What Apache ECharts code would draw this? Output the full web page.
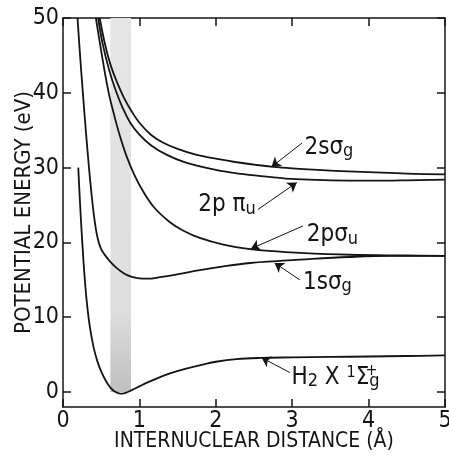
<!DOCTYPE html>
<html>
<head>
<meta charset="utf-8">
<script src="https://cdn.jsdelivr.net/npm/echarts@6/dist/echarts.min.js"></script>
<style>
  html, body { margin: 0; padding: 0; background: #fff; }
  #chart { width: 449px; height: 457px; }
</style>
</head>
<body>
<div id="chart"></div>
<script>
const FONT = '"Liberation Sans Narrow", "DejaVu Sans Condensed", sans-serif'
const INK = '#141414'

const xTicks = [0, 1, 2, 3, 4, 5]
const yTicks = [0, 10, 20, 30, 40, 50]

// [R (Å), E (eV)]
const h2Ground = [
  [0.2, 30], [0.215, 26.8], [0.235, 23], [0.255, 19.6], [0.28, 15.8], [0.31, 12.2],
  [0.35, 8.8], [0.4, 6.0], [0.45, 4.1], [0.5, 2.75], [0.56, 1.5], [0.62, 0.6],
  [0.68, 0.05], [0.75, -0.22], [0.82, -0.1], [0.9, 0.25], [1.0, 0.75], [1.1, 1.25],
  [1.27, 2.0], [1.4, 2.5], [1.6, 3.1], [1.84, 3.7], [2.0, 4.05], [2.27, 4.4],
  [2.58, 4.56], [3.0, 4.63], [3.5, 4.69], [4, 4.75], [4.5, 4.82], [5, 4.9],
]
const ion1sSg = [
  [0.19, 50], [0.22, 45.5], [0.26, 40], [0.3, 34.8], [0.34, 30], [0.37, 26.8],
  [0.40, 24.0], [0.43, 21.8], [0.46, 20.3], [0.5, 19.1], [0.55, 18.3], [0.62, 17.4],
  [0.7, 16.6], [0.8, 15.85], [0.9, 15.4], [1.0, 15.2], [1.1, 15.15], [1.27, 15.35],
  [1.53, 15.8], [1.79, 16.3], [2.1, 16.8], [2.45, 17.25], [2.8, 17.5], [3.1, 17.7],
  [3.75, 18.05], [4.3, 18.2], [5, 18.2],
]
const ion2pSu = [
  [0.43, 50], [0.5, 45.6], [0.59, 40.4], [0.66, 37.4], [0.74, 34.4], [0.84, 31.3],
  [0.94, 28.9], [1.05, 26.8], [1.2, 24.6], [1.4, 22.7], [1.57, 21.6], [1.79, 20.6],
  [2.1, 19.7], [2.45, 19.1], [2.8, 18.8], [3.1, 18.6], [3.75, 18.35], [4.5, 18.25],
  [5, 18.2],
]
const ion2pPu = [
  [0.46, 50], [0.52, 46.5], [0.6, 43.2], [0.68, 40.6], [0.78, 38.0], [0.88, 36.0],
  [1.0, 34.4], [1.15, 33.0], [1.36, 31.7], [1.6, 30.7], [2.0, 29.7], [2.3, 29.2],
  [2.66, 28.8], [3.05, 28.45], [3.5, 28.3], [4, 28.25], [4.5, 28.3], [5, 28.4],
]
const ion2sSg = [
  [0.48, 50], [0.55, 46.5], [0.62, 43.8], [0.7, 41.6], [0.8, 39.3], [0.9, 37.5],
  [1.0, 36.0], [1.15, 34.4], [1.3, 33.4], [1.5, 32.5], [1.75, 31.7], [2.0, 31.2],
  [2.25, 30.75], [2.5, 30.4], [2.75, 30.1], [3.0, 29.9], [3.5, 29.6], [4, 29.4],
  [4.5, 29.2], [5, 29.1],
]

// Franck-Condon region
const fcBand = [0.62, 0.89]

// label anchor, arrow start, arrow tip (data coords)
const labels = [
  { text: '{m|2sσ}{s|g}', at: [3.16, 32.65], from: [3.13, 33.3], to: [2.73, 30.1], bend: 0.25 },
  { text: '{m|2p π}{s|u}', at: [1.77, 25.0], from: [2.55, 24.4], to: [3.06, 28.0], bend: 0.25 },
  { text: '{m|2pσ}{s|u}', at: [3.19, 21.0], from: [3.14, 22.2], to: [2.46, 19.15], bend: 0.15 },
  { text: '{m|1sσ}{s|g}', at: [3.14, 14.6], from: [3.10, 15.0], to: [2.77, 17.25], bend: -0.25 },
  { text: '{m|H}{s|2}{m| X }{p|1}{m|Σ}{s|g}', at: [2.99, 1.9], from: [2.97, 2.6], to: [2.60, 4.6], bend: 0.1 },
]
const plusMark = { text: '+', at: [3.96, 2.9] }

const rich = {
  m: { fontSize: 24, fontFamily: FONT, color: INK, lineHeight: 26, verticalAlign: 'middle' },
  s: { fontSize: 18, fontFamily: FONT, color: INK, lineHeight: 18, verticalAlign: 'bottom' },
  p: { fontSize: 16, fontFamily: FONT, color: INK, lineHeight: 16, verticalAlign: 'top' },
}

function curve(name, data) {
  return {
    name, type: 'line', data, z: 3,
    smooth: 0.4,
    symbol: 'none', clip: true,
    lineStyle: { color: INK, width: 1.8 },
  }
}

const chart = echarts.init(document.getElementById('chart'))

const axisLine = { show: true, onZero: false, lineStyle: { color: INK, width: 1.5 } }
const tick = { show: true, inside: true, length: 8, lineStyle: { color: INK, width: 1.5 } }

chart.setOption({
  animation: false,
  backgroundColor: '#fff',
  grid: { left: 63, right: 4, top: 18, bottom: 50, outerBoundsMode: 'none', containLabel: false },
  xAxis: [
    {
      type: 'value', min: 0, max: 5, interval: 1, position: 'bottom',
      axisLine, axisTick: tick, splitLine: { show: false },
      axisLabel: { color: INK, fontSize: 23, fontFamily: FONT, margin: 3, showMinLabel: true, showMaxLabel: true },
      name: 'INTERNUCLEAR DISTANCE (Å)', nameLocation: 'middle', nameGap: 24, nameMoveOverlap: false,
      nameTextStyle: { color: INK, fontSize: 21, fontFamily: FONT },
    },
    {
      type: 'value', min: 0, max: 5, interval: 1, position: 'top',
      axisLine, axisTick: tick, splitLine: { show: false }, axisLabel: { show: false },
    },
  ],
  yAxis: [
    {
      type: 'value', min: -2, max: 50, position: 'left',
      axisLine, splitLine: { show: false },
      axisTick: { ...tick, customValues: yTicks },
      axisLabel: { color: INK, fontSize: 23, fontFamily: FONT, margin: 4, customValues: yTicks },
      name: 'POTENTIAL ENERGY (eV)', nameLocation: 'middle', nameGap: 28, nameMoveOverlap: false,
      nameTextStyle: { color: INK, fontSize: 22, fontFamily: FONT },
    },
    {
      type: 'value', min: -2, max: 50, position: 'right',
      axisLine, splitLine: { show: false },
      axisTick: { ...tick, customValues: yTicks },
      axisLabel: { show: false },
    },
  ],
  series: [
    {
      name: 'band', type: 'line', data: [], z: 1, silent: true,
      markArea: {
        silent: true,
        itemStyle: {
          color: {
            type: 'linear', x: 0, y: 0, x2: 0, y2: 1,
            colorStops: [
              { offset: 0, color: '#e6e6e6' },
              { offset: 0.78, color: '#dedede' },
              { offset: 1, color: '#bfbfbf' },
            ],
          },
        },
        data: [[{ xAxis: fcBand[0], yAxis: 0 }, { xAxis: fcBand[1], yAxis: 50 }]],
      },
    },
    curve('H2 X', h2Ground),
    curve('1sσg', ion1sSg),
    curve('2pσu', ion2pSu),
    curve('2pπu', ion2pPu),
    curve('2sσg', ion2sSg),
    {
      name: 'labels', type: 'line', data: [], z: 4, silent: true,
      markPoint: {
        symbol: 'circle', symbolSize: 0, silent: true,
        data: labels.map(l => ({
          coord: l.at,
          label: { show: true, position: 'right', distance: 0, formatter: l.text, rich },
        })).concat([{
          coord: plusMark.at,
          label: { show: true, position: 'right', distance: 0, formatter: plusMark.text,
            fontSize: 16, fontFamily: FONT, color: INK },
        }]),
      },
      markLine: {
        silent: true, symbol: ['none', 'arrow'], symbolSize: 9,
        label: { show: false },
        data: labels.map(l => [
          { coord: l.from, lineStyle: { color: INK, width: 1, type: 'solid', curveness: l.bend } },
          { coord: l.to },
        ]),
      },
    },
  ],
})
</script>
</body>
</html>
